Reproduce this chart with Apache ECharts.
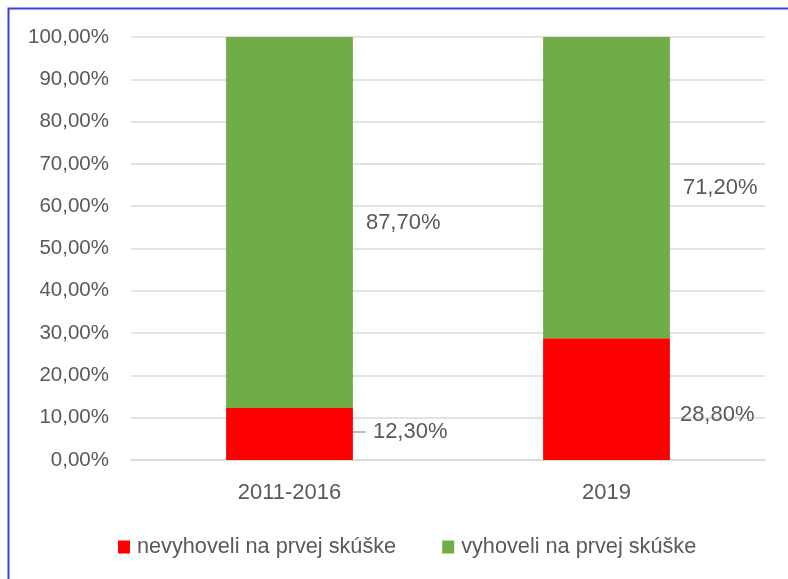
<!DOCTYPE html>
<html>
<head>
<meta charset="utf-8">
<script src="https://cdn.jsdelivr.net/npm/echarts@6/dist/echarts.min.js"></script>
<style>
  html, body { margin: 0; padding: 0; background: #fff; }
  #chart { width: 788px; height: 579px; }
</style>
</head>
<body>
<div id="chart"></div>
<script>
// data
const categories = ['2011-2016', '2019']
const failed = [12.3, 28.8]
const passed = [87.7, 71.2]
const seriesNames = ['nevyhoveli na prvej skúške', 'vyhoveli na prvej skúške']

const FONT = 'Liberation Sans'
const TEXT = '#595959'

const pct = v => v.toFixed(2).replace('.', ',') + '%'

const chart = echarts.init(document.getElementById('chart'))

const option = {
  backgroundColor: '#fff',
  animation: false,
  textStyle: { fontFamily: FONT },
  graphic: [
    {
      type: 'polyline',
      shape: { points: [[8.5, 579], [8.5, 8.5], [788, 8.5]] },
      style: { stroke: '#3f3fd6', lineWidth: 2, fill: null }
    }
  ],
  legend: {
    data: seriesNames,
    bottom: 16,
    left: 113,
    icon: 'rect',
    itemWidth: 12,
    itemHeight: 13,
    itemGap: 46,
    textStyle: { fontFamily: FONT, fontSize: 21.7, color: TEXT, padding: [0, 0, 0, 2] }
  },
  grid: {
    left: 131,
    right: 23,
    top: 37,
    bottom: 119
  },
  xAxis: {
    type: 'category',
    data: categories,
    axisLine: { lineStyle: { color: '#d9d9d9', width: 1.5 } },
    axisTick: { show: false },
    axisLabel: { fontFamily: FONT, fontSize: 22, color: TEXT, margin: 22 }
  },
  yAxis: {
    type: 'value',
    min: 0,
    max: 100,
    interval: 10,
    axisLine: { show: false },
    axisTick: { show: false },
    axisLabel: {
      fontFamily: FONT,
      fontSize: 20.5,
      color: TEXT,
      margin: 22,
      formatter: v => pct(v)
    },
    splitLine: { lineStyle: { color: '#d9d9d9', width: 1.5 } }
  },
  series: [
    {
      name: seriesNames[0],
      type: 'bar',
      stack: 'total',
      barWidth: '40%',
      // only the first label gets a leader line, as in the original
      data: failed.map((v, i) => ({
        value: v,
        labelLine: { show: i === 0 },
        label: i === 0 ? { backgroundColor: '#fff', padding: [0, 0, 0, 7] } : {}
      })),
      itemStyle: { color: '#ff0000' },
      label: {
        show: true,
        position: 'right',
        distance: 0,
        fontFamily: FONT,
        fontSize: 22,
        color: TEXT,
        formatter: p => pct(p.value)
      },
      labelLayout: p => p.dataIndex === 0 ? { dx: 13, dy: -2 } : { dx: 10, dy: 16 },
      labelLine: {
        show: true,
        length2: 0,
        lineStyle: { color: '#a6a6a6', width: 1.5 }
      }
    },
    {
      name: seriesNames[1],
      type: 'bar',
      stack: 'total',
      barWidth: '40%',
      data: passed,
      itemStyle: { color: '#70ad47' },
      label: {
        show: true,
        position: 'right',
        distance: 13,
        fontFamily: FONT,
        fontSize: 22,
        color: TEXT,
        formatter: p => pct(p.value)
      }
    }
  ]
}

chart.setOption(option)
</script>
</body>
</html>
